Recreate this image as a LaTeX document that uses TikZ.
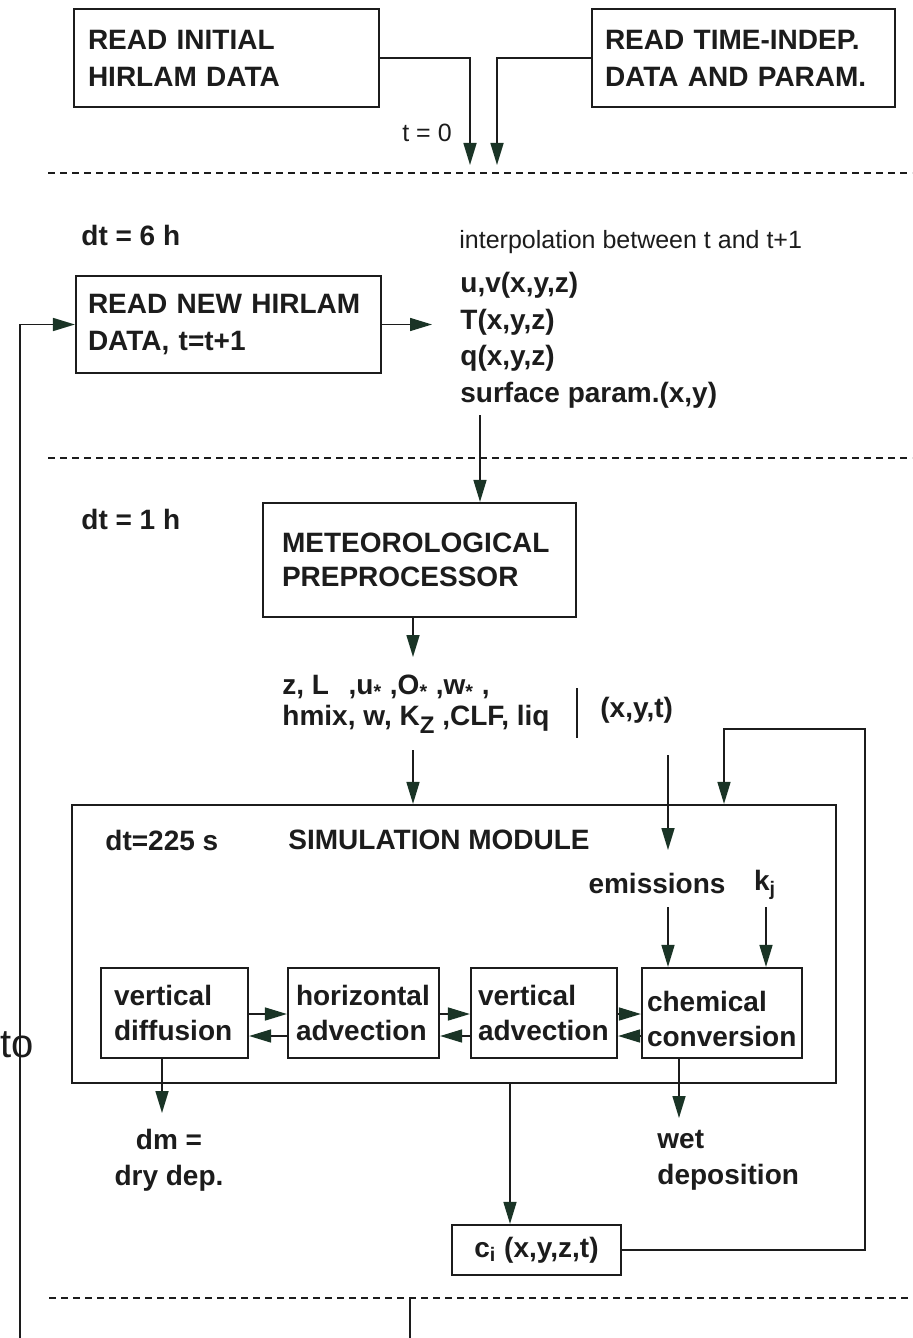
\documentclass[tikz,border=0pt]{standalone}
\usepackage{fontspec}
\setmainfont{Liberation Sans}
\usetikzlibrary{arrows.meta}
\definecolor{arrg}{RGB}{26,52,38}
\definecolor{ink}{RGB}{28,28,28}
\newcommand\DFbold{\bfseries\fontsize{14}{18.5}\selectfont}
\newcommand\DFreg{\fontsize{12.5}{15}\selectfont}
\begin{document}
\begin{tikzpicture}[x=0.5pt,y=-0.5pt,
  line/.style={draw=ink, line width=0.8pt},
  arr/.style={line, -{Triangle[length=11pt,width=6.5pt,fill=arrg,color=arrg]}},
  dashln/.style={draw=ink, line width=0.8pt, dash pattern=on 3.5pt off 2.5pt},
  box/.style={draw=ink, line width=1.1pt, align=left, inner ysep=0pt, font=\DFbold, text=ink},
  lbl/.style={font=\DFbold, text=ink, inner sep=0pt},
  rlbl/.style={font=\DFreg, text=ink, inner sep=0pt}]
\useasboundingbox (0,0) rectangle (912,1338);
\fill[white] (0,0) rectangle (912,1338);

% ---- top boxes
\node[box, text width=138.5pt, inner xsep=7pt, minimum height=49pt] (b1) at (226.5,58) {READ INITIAL\\HIRLAM DATA};
\node[box, text width=138.5pt, inner xsep=6.5pt, minimum height=49pt] (b2) at (743.5,58) {READ TIME-INDEP.\\DATA AND PARAM.};
\coordinate (t0a) at (470,165);
\coordinate (t0b) at (497,165);
\draw[arr] (b1.east) -| (t0a);
\draw[arr] (b2.west) -| (t0b);
\node[rlbl] (t0) at (427,133) {t = 0};

\coordinate (d1l) at (48,173); \coordinate (d1r) at (912,173);
\draw[dashln] (d1l) -- (d1r);

% ---- dt = 6 h
\node[lbl, anchor=west] (dt6) at (81,235) {dt = 6 h};
\node[rlbl, anchor=west] (interp) at (459,242) {interpolation between t and t+1};
\node[box, text width=140.5pt, inner xsep=6pt, minimum height=48.5pt] (b3) at (228.5,324.5) {READ NEW HIRLAM\\DATA, t=t+1};
\node[lbl, anchor=west, align=left, font=\bfseries\fontsize{14}{18.25}\selectfont] (vars) at (460,340.5) {u,v(x,y,z)\\T(x,y,z)\\q(x,y,z)\\surface param.(x,y)};
\coordinate (b3tip) at (432,324.5);
\draw[arr] (b3.east) -- (b3tip);
\coordinate (fbot) at (20,1338);
\draw[arr] (fbot) |- (b3.west);

\coordinate (d2l) at (48,458); \coordinate (d2r) at (912,458);
\draw[dashln] (d2l) -- (d2r);

% ---- dt = 1 h
\node[lbl, anchor=west] (dt1) at (81,519) {dt = 1 h};
\node[box, text width=137.5pt, inner xsep=9.5pt, minimum height=57pt] (met) at (419.5,560) {METEOROLOGICAL\\[-1.5pt]PREPROCESSOR};
\coordinate (v1) at (480,415);
\draw[arr] (v1) -- (v1 |- met.north);

\coordinate (m1t) at (413,657);
\draw[arr] (m1t |- met.south) -- (m1t);
\node[lbl, anchor=west, align=left, font=\bfseries\fontsize{14}{15.5}\selectfont] (mvars) at (282,704)
  {z, L\hspace{0.7em},u\textsubscript{*} ,O\textsubscript{*} ,w\textsubscript{*} ,\\
   hmix, w, K\raisebox{-0.55ex}{\fontsize{12}{12}\selectfont Z} ,CLF, liq};
\draw[line, line width=0.6pt] (577,688) -- (577,738);
\node[lbl, anchor=west] (xyt) at (600,710) {(x,y,t)};

% ---- simulation module
\node[draw=ink, line width=1.1pt, minimum width=382pt, minimum height=139pt, inner sep=0pt] (mod) at (454,944) {};
\coordinate (m2) at (413,750);
\draw[arr] (m2) -- (m2 |- mod.north);
\coordinate (e1) at (668,755); \coordinate (e1t) at (668,850);
\draw[arr] (e1) -- (e1t);

\node[lbl, anchor=west] (dt225) at (105,840) {dt=225 s};
\node[lbl, anchor=west] (sim) at (288,840) {SIMULATION MODULE};
\node[lbl] (emis) at (657,883) {emissions};
\node[lbl] (kj) at (765,885) {k\textsubscript{j}};

\node[box, text width=60.5pt, inner xsep=6.5pt, minimum height=45pt] (vd) at (174.5,1013) {vertical\\[-1pt]diffusion};
\node[box, text width=67.5pt, inner xsep=4pt, minimum height=45pt] (ha) at (363.5,1013) {horizontal\\[-1pt]advection};
\node[box, text width=66pt, inner xsep=3.5pt, minimum height=45pt] (va) at (544,1013) {vertical\\[-1pt]advection};
\node[box, text width=75pt, inner xsep=2.5pt, minimum height=45pt] (chem) at (722,1013) {\rule{0pt}{16pt}chemical\\[-1pt]conversion};

\coordinate (e2) at (668,907); \coordinate (k2) at (766,907);
\draw[arr] (e2) -- (e2 |- chem.north);
\draw[arr] (k2) -- (k2 |- chem.north);

\coordinate (ya) at (0,1014); \coordinate (yb) at (0,1036);
\draw[arr] (vd.east |- ya) -- (ha.west |- ya);
\draw[arr] (ha.west |- yb) -- (vd.east |- yb);
\draw[arr] (ha.east |- ya) -- (va.west |- ya);
\draw[arr] (va.west |- yb) -- (ha.east |- yb);
\draw[arr] (va.east |- ya) -- (chem.west |- ya);
\draw[arr] (chem.west |- yb) -- (va.east |- yb);

% ---- outputs
\coordinate (dmt) at (162,1113);
\draw[arr] (dmt |- vd.south) -- (dmt);
\node[lbl, align=center, font=\bfseries\fontsize{14}{18}\selectfont] (dm) at (169,1160) {dm =\\dry dep.};
\coordinate (wt) at (679,1118);
\draw[arr] (wt |- chem.south) -- (wt);
\node[lbl, anchor=west, align=left, font=\bfseries\fontsize{14}{18}\selectfont] (wet) at (657,1160) {wet\\deposition};

\node[draw=ink, line width=1.1pt, minimum width=84.5pt, minimum height=25pt, inner sep=0pt, font=\DFbold, text=ink] (ci) at (536.5,1250) {c\textsubscript{i} (x,y,z,t)};
\coordinate (cx) at (510,0);
\draw[arr] (mod.south -| cx) -- (ci.north -| cx);
\coordinate (fr) at (865,729); \coordinate (fl) at (724,729);
\draw[arr] (ci.east) -| (fr) -- (fl) -- (fl |- mod.north);

\coordinate (d3l) at (49,1298); \coordinate (d3r) at (912,1298);
\draw[dashln] (d3l) -- (d3r);
\coordinate (bl) at (410,1338);
\draw[line] (bl |- d3l) -- (bl);

\node[anchor=west, inner sep=0pt, font=\fontsize{20}{20}\selectfont, text=ink] (to) at (0,1045) {to};
\end{tikzpicture}
\end{document}
